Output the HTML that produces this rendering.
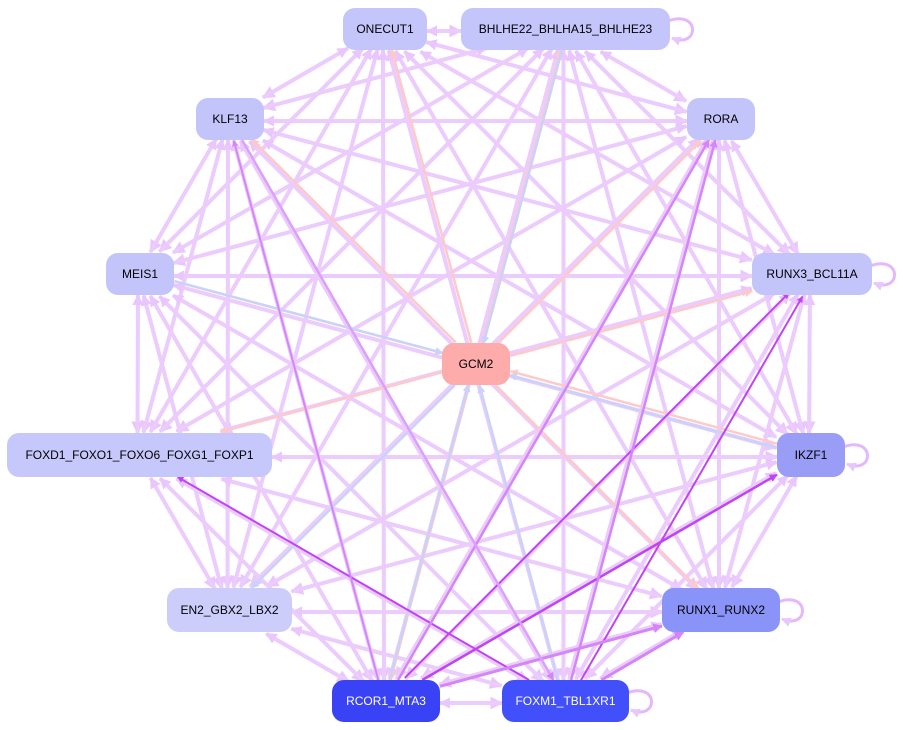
<!DOCTYPE html>
<html><head><meta charset="utf-8"><style>
html,body{margin:0;padding:0;background:#fff;}
svg{display:block;}
text{font-family:"Liberation Sans",sans-serif;font-size:12px;text-anchor:middle;dominant-baseline:central;}
</style></head><body>
<svg id="s" width="903" height="730" viewBox="0 0 903 730" xmlns="http://www.w3.org/2000/svg">
<defs>
<marker id="ml" viewBox="0 0 10 10" refX="9" refY="5" markerWidth="3.2" markerHeight="3.2" orient="auto"><path d="M0,0L10,5L0,10z" fill="#e9c6fd"/></marker>
<marker id="mp" viewBox="0 0 10 10" refX="9" refY="5" markerWidth="3.2" markerHeight="3.2" orient="auto"><path d="M0,0L10,5L0,10z" fill="#fdc9c9"/></marker>
<marker id="mb" viewBox="0 0 10 10" refX="9" refY="5" markerWidth="3.2" markerHeight="3.2" orient="auto"><path d="M0,0L10,5L0,10z" fill="#c9d3f9"/></marker>
<marker id="mv" viewBox="0 0 10 10" refX="9" refY="5" markerWidth="3.2" markerHeight="3.2" orient="auto"><path d="M0,0L10,5L0,10z" fill="#c044f5"/></marker>
<marker id="mm" viewBox="0 0 10 10" refX="9" refY="5" markerWidth="3.2" markerHeight="3.2" orient="auto"><path d="M0,0L10,5L0,10z" fill="#d486f9"/></marker>
</defs>
<g id="edges"></g>
<g id="nodes"></g>
</svg>
<script>
var N={
ONE:[343,8,84,42,"#c4c5fa","ONECUT1","#000"],
BHL:[461,8,209,42,"#c4c5fa","BHLHE22_BHLHA15_BHLHE23","#000"],
KLF:[196,98,68,42,"#c3c4fa","KLF13","#000"],
ROR:[687,98,68,42,"#c3c4fa","RORA","#000"],
MEI:[106,253,68,42,"#c3c4fa","MEIS1","#000"],
RU3:[752,253,120,42,"#c3c4fa","RUNX3_BCL11A","#000"],
GCM:[442,343,68,42,"#fdabab","GCM2","#000"],
FOX:[7,433,265,44,"#c6c7fa","FOXD1_FOXO1_FOXO6_FOXG1_FOXP1","#000"],
IKZ:[777,433,68,44,"#9a9df6","IKZF1","#000"],
EN2:[167,588,125,44,"#cccdfa","EN2_GBX2_LBX2","#000"],
RU1:[662,588,118,44,"#8a93f7","RUNX1_RUNX2","#000"],
RCO:[332,680,108,42,"#3a42f5","RCOR1_MTA3","#fff"],
FXM:[502,680,127,42,"#4150fa","FOXM1_TBL1XR1","#fff"]};
var ns="http://www.w3.org/2000/svg",E=document.getElementById("edges"),G=document.getElementById("nodes");
function c(k){var n=N[k];return [n[0]+n[2]/2,n[1]+n[3]/2];}
function bnd(k,dx,dy){var n=N[k],hw=n[2]/2,hh=n[3]/2;var t=Math.min(hw/Math.abs(dx||1e-9),hh/Math.abs(dy||1e-9));return t;}
function line(a,b,col,m,w,off){
 var p=c(a),q=c(b);var dx=q[0]-p[0],dy=q[1]-p[1];
 var ta=bnd(a,dx,dy),tb=bnd(b,-dx,-dy);
 var o=off||0,L=Math.hypot(dx,dy),ox=-dy/L*o,oy=dx/L*o;
 var l=document.createElementNS(ns,"line");
 l.setAttribute("x1",p[0]+dx*ta+ox);l.setAttribute("y1",p[1]+dy*ta+oy);
 l.setAttribute("x2",q[0]-dx*tb+ox);l.setAttribute("y2",q[1]-dy*tb+oy);
 l.setAttribute("stroke",col);l.setAttribute("stroke-width",w||3.5);
 l.setAttribute("marker-end","url(#"+m+")");E.appendChild(l);}
var K=Object.keys(N);
for(var i=0;i<K.length;i++)for(var j=0;j<K.length;j++){
 if(i==j)continue;var a=K[i],b=K[j];
 if(a=="GCM"||b=="GCM")continue;
 if(i<j) line(a,b,"#eccbfd","ml",4,2); else line(a,b,"#eccbfd","ml",3.5,-2);
}
["ONE","KLF","ROR","RU3","FOX","RU1","RCO","BHL"].forEach(function(k){line("GCM",k,"#fdc9c9","mp",2.5,1);});
line("MEI","GCM","#fdc9c9","mp",2.5,-2);line("IKZ","GCM","#fdc9c9","mp",2.5,2);
["BHL","MEI","FXM","IKZ","RCO"].forEach(function(k){line(k,"GCM","#c9d3f9","mb",2.5,-2);});
line("GCM","EN2","#c9d3f9","mb",2.5,0);
line("RCO","IKZ","#c044f5","mv",2.5,0);
line("FXM","FOX","#c044f5","mv",2,0);
line("RCO","RU3","#c044f5","mv",2,-3);
line("FXM","RU3","#c044f5","mv",2,3);
line("RCO","KLF","#d486f9","mm",2,-2);
line("FXM","ROR","#d486f9","mm",2.5,0);
line("RCO","RU1","#d486f9","mm",3,0);
line("FXM","RU1","#d486f9","mm",3,0);
line("RCO","ROR","#d486f9","mm",2.5,0);
line("KLF","FXM","#dba0fa","mm",2.5,0);
function loop(k,col){var n=N[k],x=n[0]+n[2],y=n[1]+n[3]/2;var p=document.createElementNS(ns,"path");
p.setAttribute("d","M"+(x-2)+","+(y-8)+" C"+(x+30)+","+(y-20)+" "+(x+30)+","+(y+20)+" "+(x+2)+","+(y+9));
p.setAttribute("fill","none");p.setAttribute("stroke",col);p.setAttribute("stroke-width",3);p.setAttribute("marker-end","url(#ml)");E.appendChild(p);}
["BHL","RU3","IKZ","RU1","FXM"].forEach(function(k){loop(k,"#e4b8fb");});
K.forEach(function(k){var n=N[k];var r=document.createElementNS(ns,"rect");
r.setAttribute("x",n[0]);r.setAttribute("y",n[1]);r.setAttribute("width",n[2]);r.setAttribute("height",n[3]);
r.setAttribute("rx",12);r.setAttribute("fill",n[4]);G.appendChild(r);
var t=document.createElementNS(ns,"text");t.setAttribute("x",n[0]+n[2]/2);t.setAttribute("y",n[1]+n[3]/2);
t.setAttribute("fill",n[6]);t.textContent=n[5];G.appendChild(t);});
</script>
</body></html>
